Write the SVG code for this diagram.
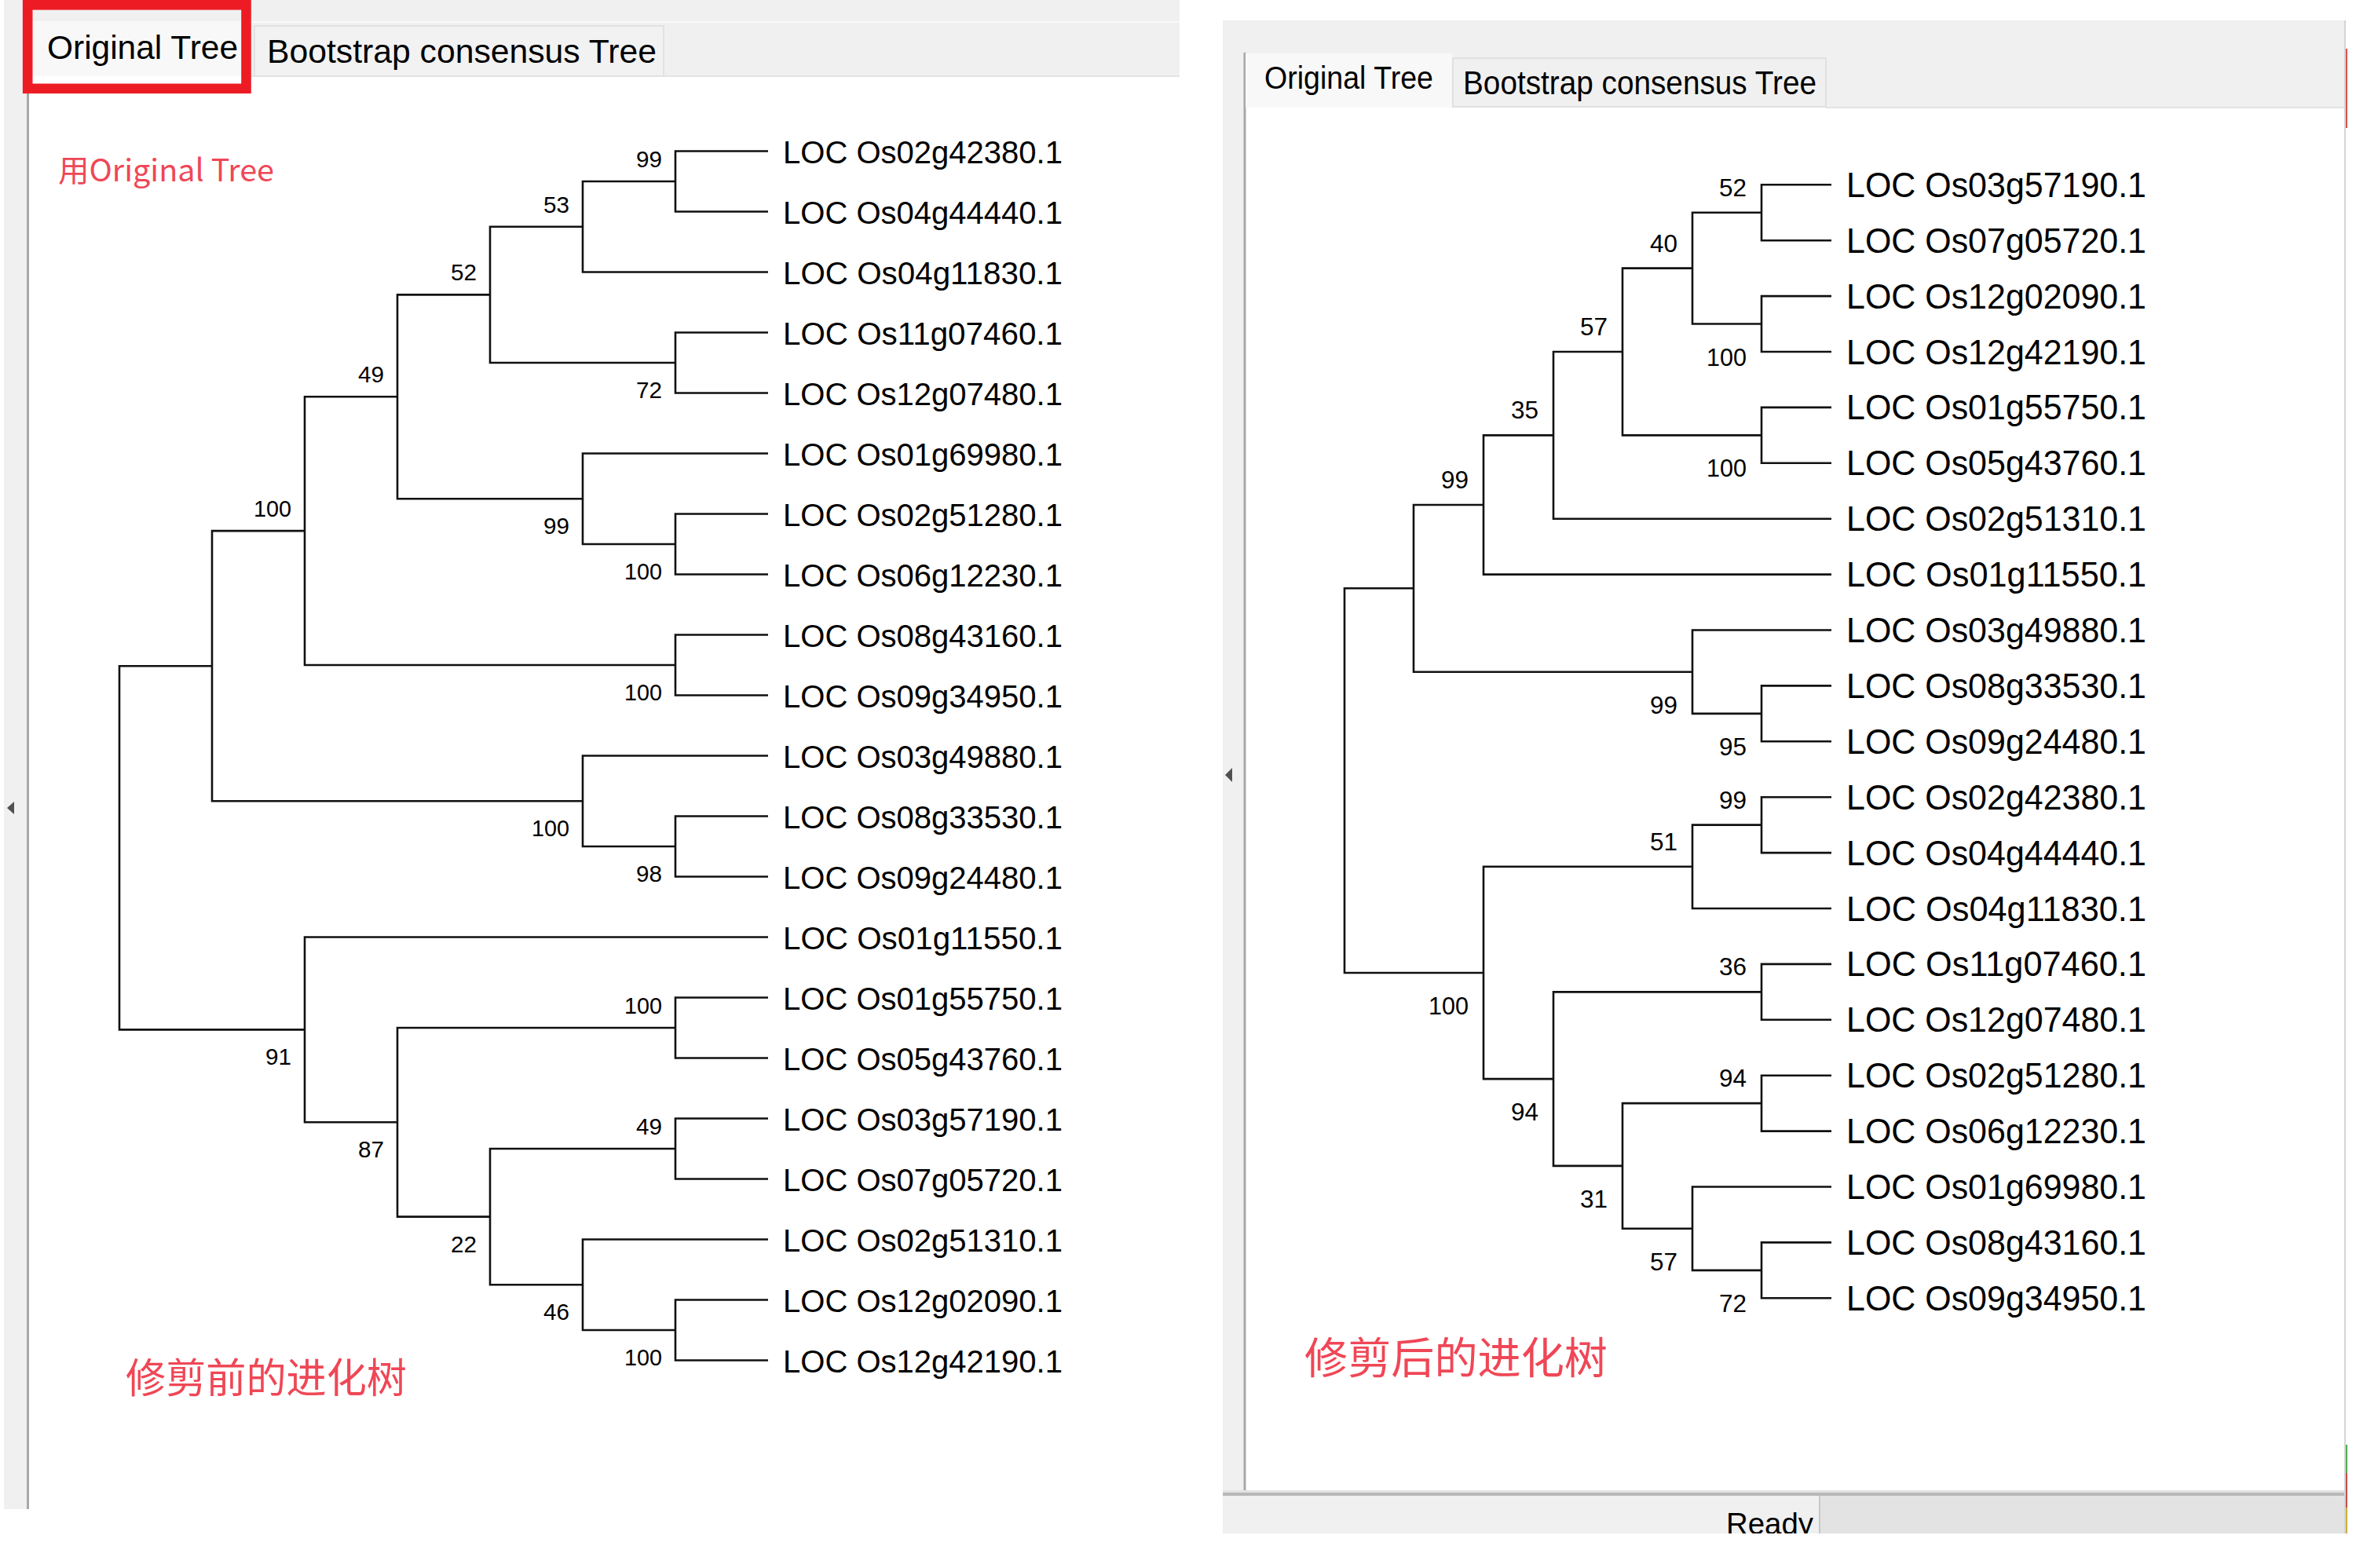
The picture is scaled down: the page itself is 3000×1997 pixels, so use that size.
<svg xmlns="http://www.w3.org/2000/svg" width="3000" height="1997" viewBox="0 0 3000 1997">
<defs>
<style>
.br{fill:none;stroke:#111;stroke-width:2.6;stroke-linejoin:miter}
.t{font-family:"Liberation Sans",Arial,sans-serif;fill:#000}
.lf{font-size:41px}
.lfr{font-size:43.5px}
.bs{font-size:30px;text-anchor:end}
.bsr{font-size:32px;text-anchor:end}
.tab{font-size:43px}
.red{font-family:"Noto Sans CJK SC","Noto Sans",sans-serif;fill:#ef4756}
</style>
<clipPath id="statusClip"><rect x="1557" y="1905" width="1430" height="48"/></clipPath>
</defs>
<rect width="3000" height="1997" fill="#fff"/>

<g id="left-window">
<rect x="5" y="0" width="1497" height="97" fill="#f0f0f0"/>
<line x1="35" y1="28" x2="1502" y2="28" stroke="#fafafa" stroke-width="2"/>
<rect x="5" y="0" width="30" height="1922" fill="#f0f0f0"/>
<line x1="35.5" y1="97" x2="35.5" y2="1922" stroke="#a8a8a8" stroke-width="3"/>
<line x1="308" y1="97" x2="1502" y2="97" stroke="#e3e3e3" stroke-width="2"/>
<rect x="41" y="28" width="267" height="69" fill="#f8f8f8"/>
<rect x="324" y="33" width="521" height="64" fill="#f2f2f2" stroke="#e2e2e2" stroke-width="2"/>
<text class="t tab" x="60" y="75" textLength="243" lengthAdjust="spacingAndGlyphs">Original Tree</text>
<text class="t tab" x="340" y="80" textLength="496" lengthAdjust="spacingAndGlyphs">Bootstrap consensus Tree</text>
<rect x="35.2" y="6.3" width="278.3" height="106.5" fill="none" stroke="#ed1c24" stroke-width="12.6"/>
<polygon points="9,1029 18,1021 18,1037" fill="#505050"/>
</g>

<g id="right-window">
<rect x="1557" y="26" width="1429" height="111" fill="#f0f0f0"/>
<rect x="1557" y="26" width="27" height="1879" fill="#f0f0f0"/>
<line x1="1585" y1="67" x2="1585" y2="1902" stroke="#a8a8a8" stroke-width="3"/>
<rect x="1586" y="68" width="263" height="69" fill="#f8f8f8"/>
<rect x="1850" y="74" width="475" height="62" fill="#f0f0f0" stroke="#e0e0e0" stroke-width="2"/>
<line x1="2325" y1="137" x2="2986" y2="137" stroke="#e3e3e3" stroke-width="2"/>
<text class="t" font-size="40" x="1610" y="113" textLength="215" lengthAdjust="spacingAndGlyphs">Original Tree</text>
<text class="t" font-size="42" x="1863" y="120" textLength="450" lengthAdjust="spacingAndGlyphs">Bootstrap consensus Tree</text>
<rect x="1557" y="1898" width="1429" height="3" fill="#e3e3e3"/>
<rect x="1557" y="1901" width="1429" height="4" fill="#b8b8b8"/>
<rect x="1557" y="1905" width="760" height="48" fill="#f0f0f0"/>
<rect x="2318" y="1905" width="668" height="48" fill="#e3e3e3"/>
<line x1="2317" y1="1905" x2="2317" y2="1953" stroke="#c8c8c8" stroke-width="2"/>
<text class="t" font-size="38" x="2309" y="1954" text-anchor="end" textLength="111" lengthAdjust="spacingAndGlyphs" clip-path="url(#statusClip)">Ready</text>
<line x1="2986" y1="26" x2="2986" y2="1953" stroke="#d4d4d4" stroke-width="2"/>
<line x1="2988" y1="62" x2="2988" y2="163" stroke="#d9534f" stroke-width="2"/>
<line x1="2988" y1="1840" x2="2988" y2="1876" stroke="#4caf50" stroke-width="2"/>
<line x1="2988" y1="1876" x2="2988" y2="1920" stroke="#c0504d" stroke-width="2"/>
<line x1="2988" y1="1920" x2="2988" y2="1953" stroke="#c8b040" stroke-width="2"/>
<polygon points="1560,987 1569,978 1569,996" fill="#505050"/>
</g>

<g id="left-connectors">
<path class="br" d="M978 192.5H860V269.5H978"/>
<path class="br" d="M860 231H742V346.5H978"/>
<path class="br" d="M978 423.5H860V500.5H978"/>
<path class="br" d="M742 288.75H624V462H860"/>
<path class="br" d="M978 654.5H860V731.5H978"/>
<path class="br" d="M978 577.5H742V693H860"/>
<path class="br" d="M624 375.4H506V635.25H742"/>
<path class="br" d="M978 808.5H860V885.5H978"/>
<path class="br" d="M506 505.3H388V847H860"/>
<path class="br" d="M978 1039.5H860V1116.5H978"/>
<path class="br" d="M978 962.5H742V1078H860"/>
<path class="br" d="M388 676.15H270V1020.25H742"/>
<path class="br" d="M270 848.2H152V1311.4H388"/>
<path class="br" d="M978 1193.5H388V1429.3H506"/>
<path class="br" d="M860 1309H506V1549.6H624"/>
<path class="br" d="M978 1270.5H860V1347.5H978"/>
<path class="br" d="M860 1463H624V1636.25H742"/>
<path class="br" d="M978 1424.5H860V1501.5H978"/>
<path class="br" d="M978 1578.5H742V1694H860"/>
<path class="br" d="M978 1655.5H860V1732.5H978"/>
</g>

<g id="left-leaves" class="t lf">
<g id="l-leaf-0"><text x="997" y="207.5" textLength="356" lengthAdjust="spacingAndGlyphs">LOC Os02g42380.1</text></g>
<g id="l-leaf-1"><text x="997" y="284.5" textLength="356" lengthAdjust="spacingAndGlyphs">LOC Os04g44440.1</text></g>
<g id="l-leaf-2"><text x="997" y="361.5" textLength="356" lengthAdjust="spacingAndGlyphs">LOC Os04g11830.1</text></g>
<g id="l-leaf-3"><text x="997" y="438.5" textLength="356" lengthAdjust="spacingAndGlyphs">LOC Os11g07460.1</text></g>
<g id="l-leaf-4"><text x="997" y="515.5" textLength="356" lengthAdjust="spacingAndGlyphs">LOC Os12g07480.1</text></g>
<g id="l-leaf-5"><text x="997" y="592.5" textLength="356" lengthAdjust="spacingAndGlyphs">LOC Os01g69980.1</text></g>
<g id="l-leaf-6"><text x="997" y="669.5" textLength="356" lengthAdjust="spacingAndGlyphs">LOC Os02g51280.1</text></g>
<g id="l-leaf-7"><text x="997" y="746.5" textLength="356" lengthAdjust="spacingAndGlyphs">LOC Os06g12230.1</text></g>
<g id="l-leaf-8"><text x="997" y="823.5" textLength="356" lengthAdjust="spacingAndGlyphs">LOC Os08g43160.1</text></g>
<g id="l-leaf-9"><text x="997" y="900.5" textLength="356" lengthAdjust="spacingAndGlyphs">LOC Os09g34950.1</text></g>
<g id="l-leaf-10"><text x="997" y="977.5" textLength="356" lengthAdjust="spacingAndGlyphs">LOC Os03g49880.1</text></g>
<g id="l-leaf-11"><text x="997" y="1054.5" textLength="356" lengthAdjust="spacingAndGlyphs">LOC Os08g33530.1</text></g>
<g id="l-leaf-12"><text x="997" y="1131.5" textLength="356" lengthAdjust="spacingAndGlyphs">LOC Os09g24480.1</text></g>
<g id="l-leaf-13"><text x="997" y="1208.5" textLength="356" lengthAdjust="spacingAndGlyphs">LOC Os01g11550.1</text></g>
<g id="l-leaf-14"><text x="997" y="1285.5" textLength="356" lengthAdjust="spacingAndGlyphs">LOC Os01g55750.1</text></g>
<g id="l-leaf-15"><text x="997" y="1362.5" textLength="356" lengthAdjust="spacingAndGlyphs">LOC Os05g43760.1</text></g>
<g id="l-leaf-16"><text x="997" y="1439.5" textLength="356" lengthAdjust="spacingAndGlyphs">LOC Os03g57190.1</text></g>
<g id="l-leaf-17"><text x="997" y="1516.5" textLength="356" lengthAdjust="spacingAndGlyphs">LOC Os07g05720.1</text></g>
<g id="l-leaf-18"><text x="997" y="1593.5" textLength="356" lengthAdjust="spacingAndGlyphs">LOC Os02g51310.1</text></g>
<g id="l-leaf-19"><text x="997" y="1670.5" textLength="356" lengthAdjust="spacingAndGlyphs">LOC Os12g02090.1</text></g>
<g id="l-leaf-20"><text x="997" y="1747.5" textLength="356" lengthAdjust="spacingAndGlyphs">LOC Os12g42190.1</text></g>
</g>

<g id="left-support" class="t bs">
<g id="l-n1"><text x="843" y="213" textLength="33" lengthAdjust="spacingAndGlyphs">99</text></g>
<g id="l-n2"><text x="725" y="270.75" textLength="33" lengthAdjust="spacingAndGlyphs">53</text></g>
<g id="l-n3"><text x="843" y="507" textLength="33" lengthAdjust="spacingAndGlyphs">72</text></g>
<g id="l-n4"><text x="607" y="357.4" textLength="33" lengthAdjust="spacingAndGlyphs">52</text></g>
<g id="l-n5"><text x="843" y="738" textLength="48" lengthAdjust="spacingAndGlyphs">100</text></g>
<g id="l-n6"><text x="725" y="680.25" textLength="33" lengthAdjust="spacingAndGlyphs">99</text></g>
<g id="l-n7"><text x="489" y="487.3" textLength="33" lengthAdjust="spacingAndGlyphs">49</text></g>
<g id="l-n8"><text x="843" y="892" textLength="48" lengthAdjust="spacingAndGlyphs">100</text></g>
<g id="l-n9"><text x="371" y="658.15" textLength="48" lengthAdjust="spacingAndGlyphs">100</text></g>
<g id="l-n10"><text x="843" y="1123" textLength="33" lengthAdjust="spacingAndGlyphs">98</text></g>
<g id="l-n11"><text x="725" y="1065.25" textLength="48" lengthAdjust="spacingAndGlyphs">100</text></g>
<g id="l-n12"><text x="843" y="1291" textLength="48" lengthAdjust="spacingAndGlyphs">100</text></g>
<g id="l-n13"><text x="843" y="1445" textLength="33" lengthAdjust="spacingAndGlyphs">49</text></g>
<g id="l-n14"><text x="843" y="1739" textLength="48" lengthAdjust="spacingAndGlyphs">100</text></g>
<g id="l-n15"><text x="725" y="1681.25" textLength="33" lengthAdjust="spacingAndGlyphs">46</text></g>
<g id="l-n16"><text x="607" y="1594.6" textLength="33" lengthAdjust="spacingAndGlyphs">22</text></g>
<g id="l-n17"><text x="489" y="1474.3" textLength="33" lengthAdjust="spacingAndGlyphs">87</text></g>
<g id="l-n18"><text x="371" y="1356.4" textLength="33" lengthAdjust="spacingAndGlyphs">91</text></g>
</g>

<g id="right-connectors">
<path class="br" d="M2332 235.3H2243V306.2H2332"/>
<path class="br" d="M2332 377.1H2243V448H2332"/>
<path class="br" d="M2243 270.75H2155V412.55H2243"/>
<path class="br" d="M2332 518.9H2243V589.8H2332"/>
<path class="br" d="M2155 341.65H2066V554.35H2243"/>
<path class="br" d="M2066 448H1978V660.7H2332"/>
<path class="br" d="M1978 554.35H1889V731.6H2332"/>
<path class="br" d="M2332 873.4H2243V944.3H2332"/>
<path class="br" d="M2332 802.5H2155V908.85H2243"/>
<path class="br" d="M1889 642.98H1800V855.68H2155"/>
<path class="br" d="M1800 749.3H1712V1238.95H1889"/>
<path class="br" d="M2332 1015.2H2243V1086.1H2332"/>
<path class="br" d="M2243 1050.65H2155V1157H2332"/>
<path class="br" d="M2155 1103.8H1889V1374.1H1978"/>
<path class="br" d="M2332 1227.9H2243V1298.8H2332"/>
<path class="br" d="M2243 1263.35H1978V1484.9H2066"/>
<path class="br" d="M2332 1369.7H2243V1440.6H2332"/>
<path class="br" d="M2243 1405.15H2066V1564.7H2155"/>
<path class="br" d="M2332 1511.5H2155V1617.85H2243"/>
<path class="br" d="M2332 1582.4H2243V1653.3H2332"/>
</g>

<g id="right-leaves" class="t lfr">
<g id="r-leaf-0"><text x="2351" y="250.8" textLength="382" lengthAdjust="spacingAndGlyphs">LOC Os03g57190.1</text></g>
<g id="r-leaf-1"><text x="2351" y="321.7" textLength="382" lengthAdjust="spacingAndGlyphs">LOC Os07g05720.1</text></g>
<g id="r-leaf-2"><text x="2351" y="392.6" textLength="382" lengthAdjust="spacingAndGlyphs">LOC Os12g02090.1</text></g>
<g id="r-leaf-3"><text x="2351" y="463.5" textLength="382" lengthAdjust="spacingAndGlyphs">LOC Os12g42190.1</text></g>
<g id="r-leaf-4"><text x="2351" y="534.4" textLength="382" lengthAdjust="spacingAndGlyphs">LOC Os01g55750.1</text></g>
<g id="r-leaf-5"><text x="2351" y="605.3" textLength="382" lengthAdjust="spacingAndGlyphs">LOC Os05g43760.1</text></g>
<g id="r-leaf-6"><text x="2351" y="676.2" textLength="382" lengthAdjust="spacingAndGlyphs">LOC Os02g51310.1</text></g>
<g id="r-leaf-7"><text x="2351" y="747.1" textLength="382" lengthAdjust="spacingAndGlyphs">LOC Os01g11550.1</text></g>
<g id="r-leaf-8"><text x="2351" y="818" textLength="382" lengthAdjust="spacingAndGlyphs">LOC Os03g49880.1</text></g>
<g id="r-leaf-9"><text x="2351" y="888.9" textLength="382" lengthAdjust="spacingAndGlyphs">LOC Os08g33530.1</text></g>
<g id="r-leaf-10"><text x="2351" y="959.8" textLength="382" lengthAdjust="spacingAndGlyphs">LOC Os09g24480.1</text></g>
<g id="r-leaf-11"><text x="2351" y="1030.7" textLength="382" lengthAdjust="spacingAndGlyphs">LOC Os02g42380.1</text></g>
<g id="r-leaf-12"><text x="2351" y="1101.6" textLength="382" lengthAdjust="spacingAndGlyphs">LOC Os04g44440.1</text></g>
<g id="r-leaf-13"><text x="2351" y="1172.5" textLength="382" lengthAdjust="spacingAndGlyphs">LOC Os04g11830.1</text></g>
<g id="r-leaf-14"><text x="2351" y="1243.4" textLength="382" lengthAdjust="spacingAndGlyphs">LOC Os11g07460.1</text></g>
<g id="r-leaf-15"><text x="2351" y="1314.3" textLength="382" lengthAdjust="spacingAndGlyphs">LOC Os12g07480.1</text></g>
<g id="r-leaf-16"><text x="2351" y="1385.2" textLength="382" lengthAdjust="spacingAndGlyphs">LOC Os02g51280.1</text></g>
<g id="r-leaf-17"><text x="2351" y="1456.1" textLength="382" lengthAdjust="spacingAndGlyphs">LOC Os06g12230.1</text></g>
<g id="r-leaf-18"><text x="2351" y="1527" textLength="382" lengthAdjust="spacingAndGlyphs">LOC Os01g69980.1</text></g>
<g id="r-leaf-19"><text x="2351" y="1597.9" textLength="382" lengthAdjust="spacingAndGlyphs">LOC Os08g43160.1</text></g>
<g id="r-leaf-20"><text x="2351" y="1668.8" textLength="382" lengthAdjust="spacingAndGlyphs">LOC Os09g34950.1</text></g>
</g>

<g id="right-support" class="t bsr">
<g id="r-n1"><text x="2224" y="249.75" textLength="35" lengthAdjust="spacingAndGlyphs">52</text></g>
<g id="r-n2"><text x="2224" y="465.55" textLength="51" lengthAdjust="spacingAndGlyphs">100</text></g>
<g id="r-n3"><text x="2136" y="320.65" textLength="35" lengthAdjust="spacingAndGlyphs">40</text></g>
<g id="r-n4"><text x="2224" y="607.35" textLength="51" lengthAdjust="spacingAndGlyphs">100</text></g>
<g id="r-n5"><text x="2047" y="427" textLength="35" lengthAdjust="spacingAndGlyphs">57</text></g>
<g id="r-n6"><text x="1959" y="533.35" textLength="35" lengthAdjust="spacingAndGlyphs">35</text></g>
<g id="r-n7"><text x="1870" y="621.98" textLength="35" lengthAdjust="spacingAndGlyphs">99</text></g>
<g id="r-n8"><text x="2224" y="961.85" textLength="35" lengthAdjust="spacingAndGlyphs">95</text></g>
<g id="r-n9"><text x="2136" y="908.68" textLength="35" lengthAdjust="spacingAndGlyphs">99</text></g>
<g id="r-n10"><text x="2224" y="1029.65" textLength="35" lengthAdjust="spacingAndGlyphs">99</text></g>
<g id="r-n11"><text x="2136" y="1082.8" textLength="35" lengthAdjust="spacingAndGlyphs">51</text></g>
<g id="r-n12"><text x="1870" y="1291.95" textLength="51" lengthAdjust="spacingAndGlyphs">100</text></g>
<g id="r-n13"><text x="2224" y="1242.35" textLength="35" lengthAdjust="spacingAndGlyphs">36</text></g>
<g id="r-n14"><text x="1959" y="1427.1" textLength="35" lengthAdjust="spacingAndGlyphs">94</text></g>
<g id="r-n15"><text x="2224" y="1384.15" textLength="35" lengthAdjust="spacingAndGlyphs">94</text></g>
<g id="r-n16"><text x="2047" y="1537.9" textLength="35" lengthAdjust="spacingAndGlyphs">31</text></g>
<g id="r-n17"><text x="2136" y="1617.7" textLength="35" lengthAdjust="spacingAndGlyphs">57</text></g>
<g id="r-n18"><text x="2224" y="1670.85" textLength="35" lengthAdjust="spacingAndGlyphs">72</text></g>
</g>

<g id="annotations">
<text class="red" font-size="39" x="74" y="231" textLength="275" lengthAdjust="spacingAndGlyphs">用Original Tree</text>
<text class="red" font-size="52" x="160" y="1774" textLength="358" lengthAdjust="spacingAndGlyphs">修剪前的进化树</text>
<text class="red" font-size="55" x="1661" y="1749" textLength="386" lengthAdjust="spacingAndGlyphs">修剪后的进化树</text>
</g>
</svg>
